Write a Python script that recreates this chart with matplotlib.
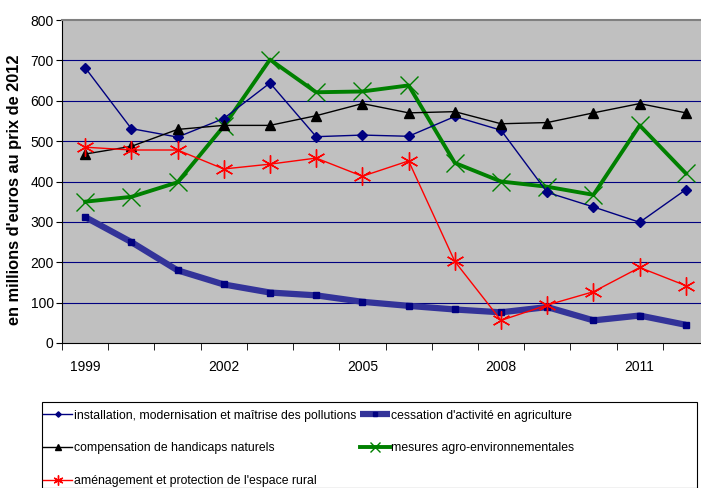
import matplotlib
matplotlib.use('Agg')
import matplotlib.pyplot as plt
from matplotlib.patches import Rectangle
import numpy as np

# données (millions d'euros, prix 2012)
years = list(range(1999, 2013))
installation = [682, 531, 510, 556, 644, 511, 515, 512, 561, 527, 373, 337, 299, 380]
cessation = [312, 250, 180, 145, 125, 118, 102, 92, 83, 76, 89, 56, 68, 45]
compensation = [468, 487, 529, 539, 539, 563, 593, 570, 573, 543, 546, 570, 593, 570]
agro_env = [350, 362, 398, 537, 702, 621, 623, 638, 446, 400, 387, 367, 539, 420]
amenagement = [485, 478, 478, 431, 443, 458, 413, 451, 202, 56, 94, 127, 187, 142]

label_years = [1999, 2002, 2005, 2008, 2011]
yticks = [0, 100, 200, 300, 400, 500, 600, 700, 800]

plt.rcParams['font.family'] = ['Liberation Sans', 'DejaVu Sans']

fig = plt.figure(figsize=(7.01, 4.88), dpi=100)
W, H = 701, 488
ax = fig.add_axes([62 / W, 1 - 343 / H, 647 / W, 323 / H])
ax.set_facecolor('#C0C0C0')

x = np.arange(len(years))

for v in yticks[1:-1]:
    ax.axhline(v, color='#000080', lw=0.8, zorder=1)

asterisk = (6, 2, 0)
l_inst, = ax.plot(x, installation, color='#000080', lw=1.0, marker='D', ms=5,
                  mfc='#000080', mec='#000080', zorder=4)
l_cess, = ax.plot(x, cessation, color='#333399', lw=4.5, marker='s', ms=4,
                  mfc='#000080', mec='#000080', zorder=3, solid_capstyle='butt')
l_comp, = ax.plot(x, compensation, color='black', lw=1.0, marker='^', ms=7,
                  mfc='black', mec='black', zorder=4)
l_agro, = ax.plot(x, agro_env, color='#008000', lw=2.8, marker='x', ms=13,
                  mew=1.0, zorder=3)
l_amen, = ax.plot(x, amenagement, color='#FF0000', lw=1.0, marker=asterisk, ms=13,
                  mew=1.0, zorder=4)

ax.set_xlim(-0.5, len(years) - 0.5)
ax.set_ylim(0, 800)
ax.set_yticks(yticks)
ax.tick_params(axis='y', labelsize=10, length=4, direction='out', pad=2)

ax.set_xticks([years.index(y) for y in label_years])
ax.set_xticklabels([str(y) for y in label_years])
ax.set_xticks(np.arange(-0.5, len(years), 1.0), minor=True)
ax.tick_params(axis='x', which='major', length=0, labelsize=10, pad=12)
ax.tick_params(axis='x', which='minor', length=5, direction='out')

ax.spines['top'].set_color('#808080')
ax.spines['top'].set_linewidth(1.5)
ax.spines['right'].set_visible(False)
ax.spines['left'].set_color('black')
ax.spines['bottom'].set_color('black')

fig.text(15 / W, 1 - 190 / H, "en millions d'euros au prix de 2012", rotation=90,
         ha='center', va='center', fontsize=11.8, fontweight='bold')

handles = [l_inst, l_comp, l_amen, l_cess, l_agro]
labels = ['installation, modernisation et maîtrise des pollutions',
          'compensation de handicaps naturels',
          "aménagement et protection de l'espace rural",
          "cessation d'activité en agriculture",
          'mesures agro-environnementales']
fig.patches.append(Rectangle((42 / W, 0), 655 / W, 1 - 402 / H, transform=fig.transFigure,
                             facecolor='white', edgecolor='black', lw=0.8))
leg = fig.legend(handles, labels, loc='upper left', bbox_to_anchor=(43 / W, 1 - 409.5 / H),
                 ncol=2, frameon=False, markerscale=0.55, handlelength=2.4,
                 handletextpad=0.15, columnspacing=0.3, labelspacing=1.7,
                 borderpad=0, borderaxespad=0, prop={'size': 8.8})

fig.savefig('out.png', dpi=100)
